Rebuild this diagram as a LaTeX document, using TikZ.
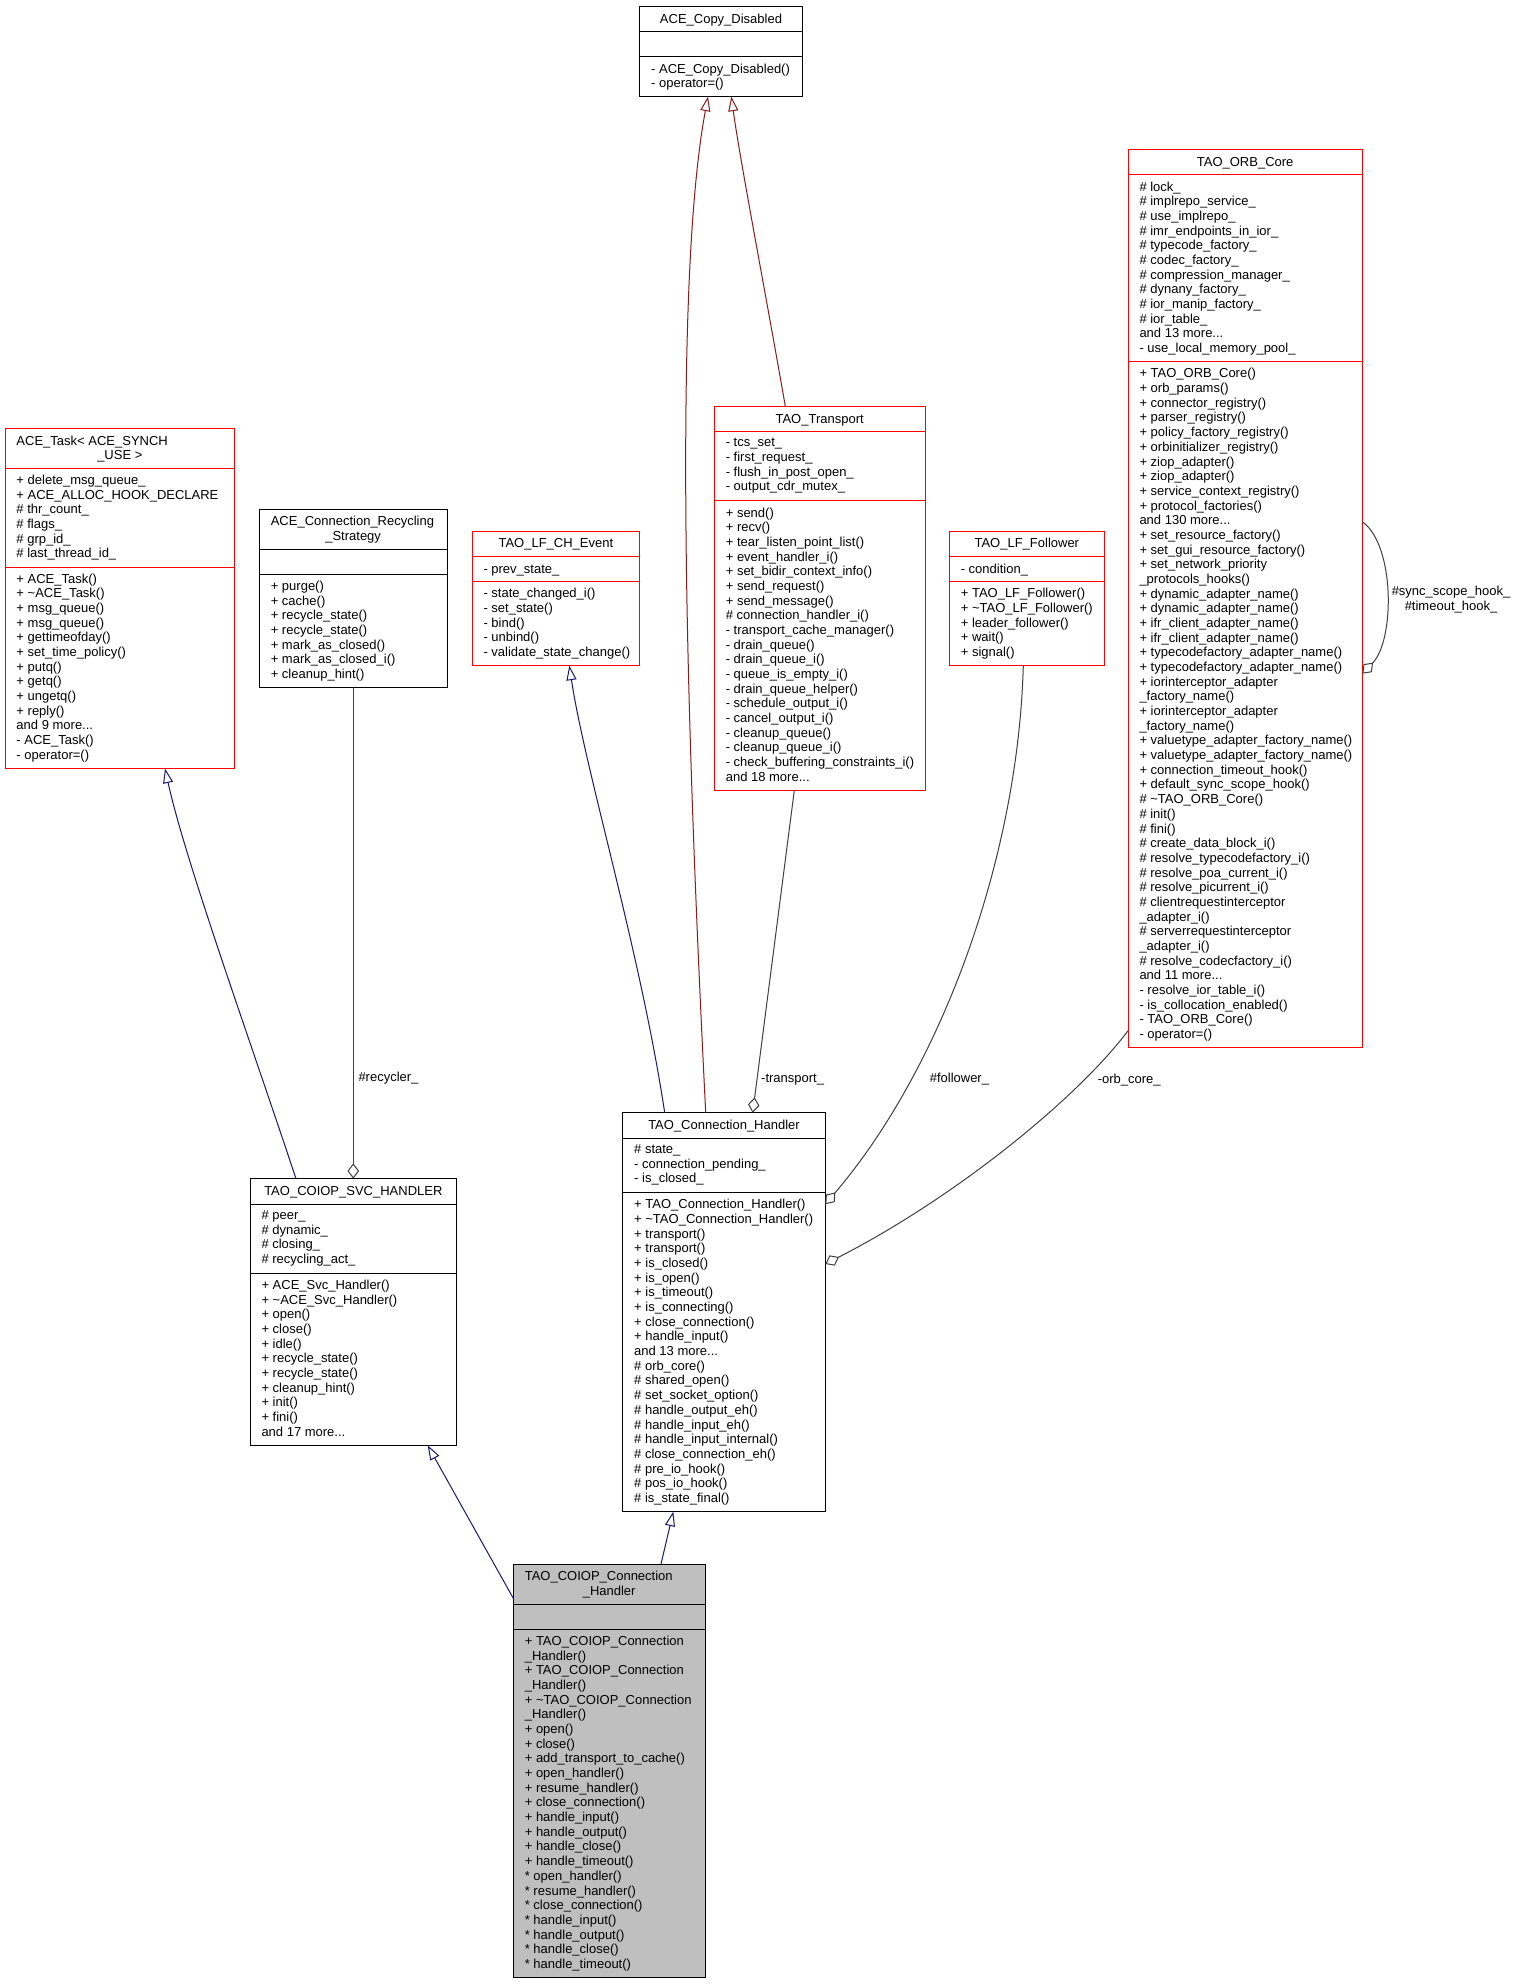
\documentclass[tikz,border=0pt]{standalone}
\usepackage{fontspec}
\setmainfont{Liberation Sans}
\usetikzlibrary{arrows.meta,calc}

\definecolor{edgeblue}{RGB}{25,25,112}
\definecolor{edgered}{RGB}{139,26,26}
\definecolor{edgegray}{RGB}{64,64,64}
\definecolor{classgray}{RGB}{191,191,191}

\newcommand{\umlfont}{\fontsize{6.5pt}{7.34pt}\selectfont}

\tikzset{every picture/.style={line width=0.5pt}}

\begin{document}
\begin{tikzpicture}[x=0.5pt,y=0.5pt,yscale=-1,xscale=1,font=\umlfont,
  classbox/.style={draw,inner sep=0pt,outer sep=0pt,anchor=north west},
  member/.style={anchor=north west,inner sep=0pt,align=left,execute at begin node=\strut},
  classname/.style={anchor=north,inner sep=0pt,align=center,execute at begin node=\strut},
  edgelabel/.style={anchor=base west,inner sep=0pt},
  inherit/.style={draw=edgeblue,-{Triangle[open,length=7.3pt,width=5pt]}},
  copyinherit/.style={draw=edgered,-{Triangle[open,length=7.3pt,width=5pt]}},
  aggr/.style={draw=edgegray,-{Diamond[open,length=7.7pt,width=5.8pt]}}]
\path[use as bounding box,fill=white] (0,0) rectangle (1516,1984);

%Shape: Class [id:cd] 
\node[classbox] (cd) at (639.7,6.3) [minimum width=81.3pt,minimum height=45.15pt] {};
\draw (cd.north west) ++(0,25.3) -- ++(162.6,0) ;
\draw (cd.north west) ++(0,50.6) -- ++(162.6,0) ;
% Text Node
\node[classname] (cd-title) at (721,12.5) {ACE\_Copy\_Disabled};
% Text Node
\node[member] (cd-ops) at (650.7,63.1) {- ACE\_Copy\_Disabled()\\- operator=()};

%Shape: Class [id:task] 
\node[classbox,draw=red] (task) at (5,428.3) [minimum width=114.85pt,minimum height=170.1pt] {};
\draw [red] (task.north west) ++(0,40) -- ++(229.7,0) ;
\draw [red] (task.north west) ++(0,138.7) -- ++(229.7,0) ;
% Text Node
\node[member] (task-title) at (16,434.5) {ACE\_Task< ACE\_SYNCH};
\node[classname] (task-title2) at (119.85,449.2) {\_USE >};
% Text Node
\node[member] (task-attr) at (16,474.5) {+ delete\_msg\_queue\_\\+ ACE\_ALLOC\_HOOK\_DECLARE\\\# thr\_count\_\\\# flags\_\\\# grp\_id\_\\\# last\_thread\_id\_};
% Text Node
\node[member] (task-ops) at (16,573.2) {+ ACE\_Task()\\+ \textasciitilde{}ACE\_Task()\\+ msg\_queue()\\+ msg\_queue()\\+ gettimeofday()\\+ set\_time\_policy()\\+ putq()\\+ getq()\\+ ungetq()\\+ reply()\\and 9 more...\\- ACE\_Task()\\- operator=()};

%Shape: Class [id:recycling] 
\node[classbox] (recycling) at (259.3,509) [minimum width=93.85pt,minimum height=89.35pt] {};
\draw (recycling.north west) ++(0,40) -- ++(187.7,0) ;
\draw (recycling.north west) ++(0,65.3) -- ++(187.7,0) ;
% Text Node
\node[member] (recycling-title) at (270.3,515.2) {ACE\_Connection\_Recycling};
\node[classname] (recycling-title2) at (353.15,529.9) {\_Strategy};
% Text Node
\node[member] (recycling-ops) at (270.3,580.5) {+ purge()\\+ cache()\\+ recycle\_state()\\+ recycle\_state()\\+ mark\_as\_closed()\\+ mark\_as\_closed\_i()\\+ cleanup\_hint()};

%Shape: Class [id:chevent] 
\node[classbox,draw=red] (chevent) at (472,531) [minimum width=83.85pt,minimum height=67.3pt] {};
\draw [red] (chevent.north west) ++(0,25.3) -- ++(167.7,0) ;
\draw [red] (chevent.north west) ++(0,50.6) -- ++(167.7,0) ;
% Text Node
\node[classname] (chevent-title) at (555.85,537.2) {TAO\_LF\_CH\_Event};
\node[member] (chevent-attr) at (483,562.5) {- prev\_state\_};
\node[member] (chevent-ops) at (483,587.8) {- state\_changed\_i()\\- set\_state()\\- bind()\\- unbind()\\- validate\_state\_change()};

%Shape: Class [id:transport] 
\node[classbox,draw=red] (transport) at (714.3,406.3) [minimum width=105.35pt,minimum height=192.05pt] {};
\draw [red] (transport.north west) ++(0,25.3) -- ++(210.7,0) ;
\draw [red] (transport.north west) ++(0,94.6) -- ++(210.7,0) ;
% Text Node
\node[classname] (transport-title) at (819.65,412.5) {TAO\_Transport};
\node[member] (transport-attr) at (725.3,437.8) {- tcs\_set\_\\- first\_request\_\\- flush\_in\_post\_open\_\\- output\_cdr\_mutex\_};
\node[member] (transport-ops) at (725.3,507.1) {+ send()\\+ recv()\\+ tear\_listen\_point\_list()\\+ event\_handler\_i()\\+ set\_bidir\_context\_info()\\+ send\_request()\\+ send\_message()\\\# connection\_handler\_i()\\- transport\_cache\_manager()\\- drain\_queue()\\- drain\_queue\_i()\\- queue\_is\_empty\_i()\\- drain\_queue\_helper()\\- schedule\_output\_i()\\- cancel\_output\_i()\\- cleanup\_queue()\\- cleanup\_queue\_i()\\- check\_buffering\_constraints\_i()\\and 18 more...};

%Shape: Class [id:follower] 
\node[classbox,draw=red] (follower) at (949.3,531) [minimum width=77.5pt,minimum height=67.3pt] {};
\draw [red] (follower.north west) ++(0,25.3) -- ++(155,0) ;
\draw [red] (follower.north west) ++(0,50.6) -- ++(155,0) ;
% Text Node
\node[classname] (follower-title) at (1026.8,537.2) {TAO\_LF\_Follower};
\node[member] (follower-attr) at (960.3,562.5) {- condition\_};
\node[member] (follower-ops) at (960.3,587.8) {+ TAO\_LF\_Follower()\\+ \textasciitilde{}TAO\_LF\_Follower()\\+ leader\_follower()\\+ wait()\\+ signal()};

%Shape: Class [id:orbcore] 
\node[classbox,draw=red] (orbcore) at (1128,149.7) [minimum width=117.15pt,minimum height=449pt] {};
\draw [red] (orbcore.north west) ++(0,25.3) -- ++(234.3,0) ;
\draw [red] (orbcore.north west) ++(0,212.1) -- ++(234.3,0) ;
% Text Node
\node[classname] (orbcore-title) at (1245.15,155.9) {TAO\_ORB\_Core};
\node[member] (orbcore-attr) at (1139,181.2) {\# lock\_\\\# implrepo\_service\_\\\# use\_implrepo\_\\\# imr\_endpoints\_in\_ior\_\\\# typecode\_factory\_\\\# codec\_factory\_\\\# compression\_manager\_\\\# dynany\_factory\_\\\# ior\_manip\_factory\_\\\# ior\_table\_\\and 13 more...\\- use\_local\_memory\_pool\_};
\node[member] (orbcore-ops) at (1139,368) {+ TAO\_ORB\_Core()\\+ orb\_params()\\+ connector\_registry()\\+ parser\_registry()\\+ policy\_factory\_registry()\\+ orbinitializer\_registry()\\+ ziop\_adapter()\\+ ziop\_adapter()\\+ service\_context\_registry()\\+ protocol\_factories()\\and 130 more...\\+ set\_resource\_factory()\\+ set\_gui\_resource\_factory()\\+ set\_network\_priority\\\_protocols\_hooks()\\+ dynamic\_adapter\_name()\\+ dynamic\_adapter\_name()\\+ ifr\_client\_adapter\_name()\\+ ifr\_client\_adapter\_name()\\+ typecodefactory\_adapter\_name()\\+ typecodefactory\_adapter\_name()\\+ iorinterceptor\_adapter\\\_factory\_name()\\+ iorinterceptor\_adapter\\\_factory\_name()\\+ valuetype\_adapter\_factory\_name()\\+ valuetype\_adapter\_factory\_name()\\+ connection\_timeout\_hook()\\+ default\_sync\_scope\_hook()\\\# \textasciitilde{}TAO\_ORB\_Core()\\\# init()\\\# fini()\\\# create\_data\_block\_i()\\\# resolve\_typecodefactory\_i()\\\# resolve\_poa\_current\_i()\\\# resolve\_picurrent\_i()\\\# clientrequestinterceptor\\\_adapter\_i()\\\# serverrequestinterceptor\\\_adapter\_i()\\\# resolve\_codecfactory\_i()\\and 11 more...\\- resolve\_ior\_table\_i()\\- is\_collocation\_enabled()\\- TAO\_ORB\_Core()\\- operator=()};

%Shape: Class [id:svc] 
\node[classbox] (svc) at (250,1178.7) [minimum width=103.35pt,minimum height=133.35pt] {};
\draw (svc.north west) ++(0,25.3) -- ++(206.7,0) ;
\draw (svc.north west) ++(0,94.6) -- ++(206.7,0) ;
% Text Node
\node[classname] (svc-title) at (353.35,1184.9) {TAO\_COIOP\_SVC\_HANDLER};
\node[member] (svc-attr) at (261,1210.2) {\# peer\_\\\# dynamic\_\\\# closing\_\\\# recycling\_act\_};
\node[member] (svc-ops) at (261,1279.5) {+ ACE\_Svc\_Handler()\\+ \textasciitilde{}ACE\_Svc\_Handler()\\+ open()\\+ close()\\+ idle()\\+ recycle\_state()\\+ recycle\_state()\\+ cleanup\_hint()\\+ init()\\+ fini()\\and 17 more...};

%Shape: Class [id:connhandler] 
\node[classbox] (connhandler) at (622.7,1112.7) [minimum width=101.3pt,minimum height=199.45pt] {};
\draw (connhandler.north west) ++(0,25.3) -- ++(202.6,0) ;
\draw (connhandler.north west) ++(0,80) -- ++(202.6,0) ;
% Text Node
\node[classname] (connhandler-title) at (724,1118.9) {TAO\_Connection\_Handler};
\node[member] (connhandler-attr) at (633.7,1144.2) {\# state\_\\- connection\_pending\_\\- is\_closed\_};
\node[member] (connhandler-ops) at (633.7,1198.9) {+ TAO\_Connection\_Handler()\\+ \textasciitilde{}TAO\_Connection\_Handler()\\+ transport()\\+ transport()\\+ is\_closed()\\+ is\_open()\\+ is\_timeout()\\+ is\_connecting()\\+ close\_connection()\\+ handle\_input()\\and 13 more...\\\# orb\_core()\\\# shared\_open()\\\# set\_socket\_option()\\\# handle\_output\_eh()\\\# handle\_input\_eh()\\\# handle\_input\_internal()\\\# close\_connection\_eh()\\\# pre\_io\_hook()\\\# pos\_io\_hook()\\\# is\_state\_final()};

%Shape: Class [id:coiop] 
\node[classbox,fill=classgray] (coiop) at (513.3,1564) [minimum width=95.85pt,minimum height=206.8pt] {};
\draw (coiop.north west) ++(0,40) -- ++(191.7,0) ;
\draw (coiop.north west) ++(0,65.3) -- ++(191.7,0) ;
% Text Node
\node[member] (coiop-title) at (524.3,1570.2) {TAO\_COIOP\_Connection};
\node[classname] (coiop-title2) at (609.15,1584.9) {\_Handler};
\node[member] (coiop-ops) at (524.3,1635.5) {+ TAO\_COIOP\_Connection\\\_Handler()\\+ TAO\_COIOP\_Connection\\\_Handler()\\+ \textasciitilde{}TAO\_COIOP\_Connection\\\_Handler()\\+ open()\\+ close()\\+ add\_transport\_to\_cache()\\+ open\_handler()\\+ resume\_handler()\\+ close\_connection()\\+ handle\_input()\\+ handle\_output()\\+ handle\_close()\\+ handle\_timeout()\\* open\_handler()\\* resume\_handler()\\* close\_connection()\\* handle\_input()\\* handle\_output()\\* handle\_close()\\* handle\_timeout()};

%Inheritance 
\draw [inherit] ($(svc.north west)+(46,0)$) .. controls (250,1040) and (185,860) .. ($(task.south west)+(160,0)$) ;
\draw [inherit] ($(connhandler.north west)+(42,0)$) .. controls (640,950) and (585,770) .. ($(chevent.south west)+(97.3,0)$) ;
\draw [copyinherit] ($(connhandler.north west)+(83,0)$) .. controls (690,800) and (670,300) .. ($(cd.south west)+(68.3,0)$) ;
\draw [copyinherit] ($(transport.north west)+(71,0)$) .. controls (765,290) and (740,160) .. ($(cd.south west)+(91.6,0)$) ;
\draw [inherit] ($(coiop.north west)+(0,34.3)$) -- ($(svc.south west)+(177.7,0)$) ;
\draw [inherit] ($(coiop.north west)+(147.7,0)$) -- ($(connhandler.south west)+(50.6,0)$) ;

%Aggregation 
\draw [aggr] ($(recycling.south west)+(94,0)$) -- ($(svc.north west)+(103.3,0)$) ;
\draw [aggr] ($(transport.south west)+(80,0)$) -- ($(connhandler.north west)+(130,0)$) ;
\draw [aggr] ($(follower.south west)+(74,0)$) .. controls (1018,860) and (940,1070) .. ($(connhandler.north east)+(0,91.5)$) ;
\draw [aggr] ($(orbcore.south west)+(0,-17)$) .. controls (1080,1095) and (960,1195) .. ($(connhandler.north east)+(0,151.3)$) ;
\draw [aggr] ($(orbcore.north east)+(0,372)$) .. controls (1395,545) and (1395,640) .. ($(orbcore.north east)+(0,524)$) ;

% Text Node
\node[edgelabel] (recycler-label) at (358,1081) {\#recycler\_};
\node[edgelabel] (transport-label) at (760.7,1082.7) {-transport\_};
\node[edgelabel] (follower-label) at (929.3,1082.7) {\#follower\_};
\node[edgelabel] (orbcore-label) at (1097.3,1083.3) {-orb\_core\_};
\node[classname] (hook-label) at (1451,585.7) {\#sync\_scope\_hook\_\\\#timeout\_hook\_};

\end{tikzpicture}
\end{document}
